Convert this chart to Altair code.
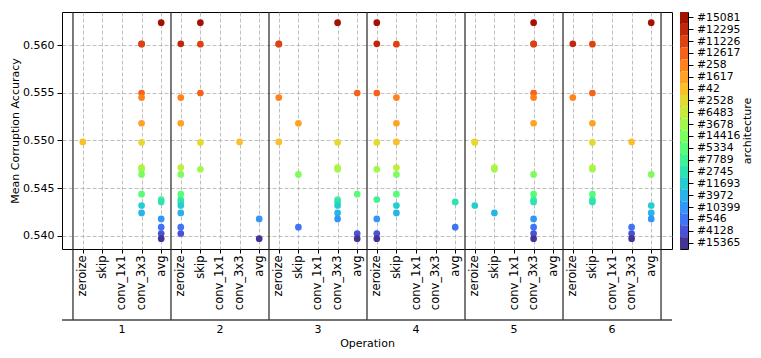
import altair as alt
import pandas as pd

# ---- data ----
architectures = ["#15081", "#12295", "#11226", "#12617", "#258", "#1617", "#42", "#2528",
                 "#6483", "#3678", "#14416", "#5334", "#7789", "#2745", "#11693", "#3972",
                 "#10399", "#546", "#4128", "#15365"]
accuracy = [0.56238, 0.56016, 0.56012, 0.55499, 0.55451, 0.55181, 0.54985, 0.54980,
            0.54716, 0.54698, 0.54643, 0.54436, 0.54380, 0.54355, 0.54317, 0.54239,
            0.54176, 0.54089, 0.54023, 0.53968]
operations = ["zeroize", "skip", "conv_1x1", "conv_3x3", "avg"]
edge_labels = ["1", "2", "3", "4", "5", "6"]
Z, S, C1, C3, A = operations

edge1_ops = [A, C3, C3, C3, C3, C3, Z, C3, C3, C3, C3, C3, A, A, C3, C3, A, A, A, A]
edge2_ops = [S, Z, S, S, Z, Z, C3, S, Z, S, Z, Z, Z, Z, Z, Z, A, Z, Z, A]
edge3_ops = [C3, Z, Z, A, Z, S, Z, C3, C3, C3, S, A, C3, C3, C3, C3, C3, S, A, A]
edge4_ops = [Z, Z, S, Z, S, S, S, Z, S, Z, S, S, Z, A, S, S, Z, A, Z, Z]
edge5_ops = [C3, C3, C3, C3, C3, C3, Z, Z, S, S, C3, C3, C3, C3, Z, S, C3, C3, C3, C3]
edge6_ops = [A, Z, S, S, Z, S, C3, S, S, S, A, S, S, S, A, A, A, C3, C3, C3]
edge_ops = [edge1_ops, edge2_ops, edge3_ops, edge4_ops, edge5_ops, edge6_ops]

n_ops = len(operations)
n_edges = len(edge_labels)

rows = []
for e, ops in enumerate(edge_ops):
    for arch, acc, op in zip(architectures, accuracy, ops):
        rows.append({"architecture": arch, "accuracy": acc, "edge": edge_labels[e],
                     "operation": op, "pos": e * n_ops + operations.index(op) + 0.5})
df = pd.DataFrame(rows)

tick_vals = [e * n_ops + k + 0.5 for e in range(n_edges) for k in range(n_ops)]
label_expr = "[" + ",".join("'%s'" % o for o in operations) + "][floor(datum.value) %% %d]" % n_ops

W, H = 610, 237

xscale = alt.Scale(domain=[-0.56, n_edges * n_ops + 0.56], nice=False, zero=False)
yscale = alt.Scale(domain=[0.5386, 0.5635], nice=False, zero=False)
color_scale = alt.Scale(domain=architectures[::-1], scheme="turbo")


def x_axis():
    return alt.Axis(values=tick_vals, labelExpr=label_expr, labelAngle=270, title="Operation",
                    titleY=94, titleBaseline="middle", grid=True, tickSize=4, labelPadding=2,
                    labelFontSize=11.5, domain=False, labelOverlap=False, labelFlush=False)


y_axis = alt.Axis(values=[0.540, 0.545, 0.550, 0.555, 0.560], format=".3f",
                  title="Mean Corruption Accuracy", titleX=-47, titleY=H / 2, titleAngle=270,
                  titleAlign="center", titleBaseline="middle", tickSize=5, labelPadding=3,
                  labelFontSize=11, domain=False, grid=True)

points = alt.Chart(df).mark_circle(size=45, opacity=1).encode(
    x=alt.X("pos:Q", scale=xscale, axis=x_axis()),
    y=alt.Y("accuracy:Q", scale=yscale, axis=y_axis),
    color=alt.Color("architecture:N", scale=color_scale, legend=None),
    tooltip=["architecture", "edge", "operation", "accuracy"],
)

seps = alt.Chart(pd.DataFrame({"pos": [e * n_ops for e in range(n_edges + 1)]})).mark_rule(
    color="#222222", strokeWidth=1.2
).encode(x=alt.X("pos:Q", scale=xscale, axis=x_axis()), y=alt.value(0), y2=alt.value(308))

bottom = alt.Chart(pd.DataFrame({"pos": [0]})).mark_rule(color="#444444", strokeWidth=1.5).encode(
    x=alt.value(0), x2=alt.value(W), y=alt.value(308)
)

groups = alt.Chart(pd.DataFrame({"pos": [e * n_ops + n_ops / 2 for e in range(n_edges)],
                                 "label": edge_labels})).mark_text(
    fontSize=11, baseline="middle", color="black"
).encode(x=alt.X("pos:Q", scale=xscale, axis=x_axis()), y=alt.value(318), text="label:N")

main = alt.layer(points, seps, bottom, groups).properties(width=W, height=H)

cbar = alt.Chart(pd.DataFrame({"architecture": architectures})).mark_rect().encode(
    y=alt.Y("architecture:N", sort=architectures,
            scale=alt.Scale(paddingInner=0, paddingOuter=0),
            axis=alt.Axis(orient="right", title="architecture", titleAngle=270,
                          titleX=59, titleY=H / 2, titleAlign="center", titleBaseline="middle",
                          tickSize=5, labelPadding=3.5, labelFontSize=10.8, domain=False,
                          grid=False, labelOverlap=False)),
    color=alt.Color("architecture:N", scale=color_scale, legend=None),
).properties(width=8, height=H)

chart = alt.hconcat(main, cbar, spacing=8, bounds="flush").resolve_scale(
    x="independent", y="independent"
).properties(
    padding={"left": 0, "top": 2, "right": 0, "bottom": 0}
).configure(font="DejaVu Sans").configure_view(
    stroke="black", strokeWidth=1
).configure_axis(
    labelColor="black", titleColor="black", tickColor="black", gridColor="#b0b0b0",
    gridDash=[4, 2], gridWidth=0.8, titleFontSize=11,
    titleFontWeight="normal", labelFont="DejaVu Sans", titleFont="DejaVu Sans"
).configure_axisX(labelOverlap=False)

chart.save("out.html", embed_options={"renderer": "svg", "actions": False})
